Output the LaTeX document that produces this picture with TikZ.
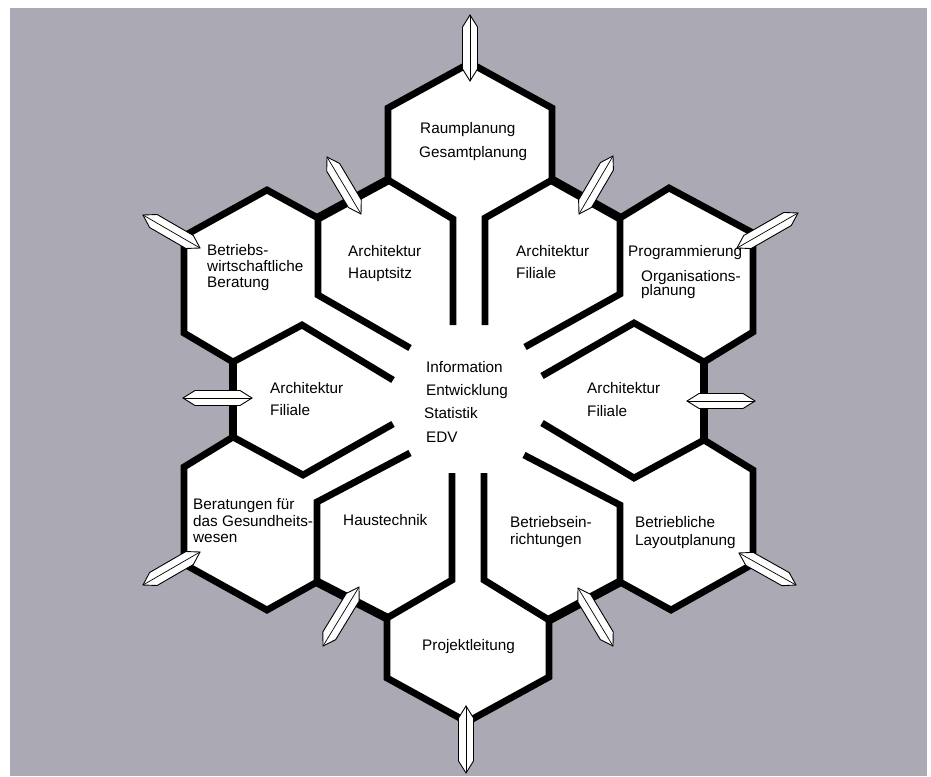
\documentclass[tikz,border=0pt]{standalone}
\usepackage{fontspec}
\setmainfont{Liberation Sans}
\usetikzlibrary{calc}
\definecolor{bggray}{RGB}{171,169,179}
\tikzset{
  wall/.style={line width=6.8pt, line join=miter, miter limit=10, line cap=butt},
  thickwall/.style={line width=8.8pt, line cap=butt},
  crystal/.style={fill=white, draw=black, line width=0.9pt, line join=miter},
  ridge/.style={draw=black, line width=0.7pt},
  lbl/.style={anchor=base west, inner sep=0pt, font=\fontsize{15.3}{18}\selectfont},
}
\newcommand\crys[2]{%
  \filldraw[crystal] (#1)
    -- ($(#1)!12pt!(#2)!7.5pt!90:(#2)$)
    -- ($(#2)!12pt!(#1)!7.5pt!-90:(#1)$)
    -- (#2)
    -- ($(#2)!12pt!(#1)!7.5pt!90:(#1)$)
    -- ($(#1)!12pt!(#2)!7.5pt!-90:(#2)$)
    -- cycle;
  \draw[ridge] (#1) -- (#2);
}
\begin{document}
\begin{tikzpicture}[x=1pt,y=-1pt]
\useasboundingbox (0,0) rectangle (931,776);
\fill[white] (0,0) rectangle (931,776);
\fill[bggray] (10,8) rectangle (927,776);

% outer boundary vertices
\coordinate (T) at (470,63);
\coordinate (tr1) at (552,108);
\coordinate (tr2) at (552,180);
\coordinate (fr) at (620,218);
\coordinate (pt) at (669,188);
\coordinate (pr1) at (753,233);
\coordinate (pr2) at (753,332);
\coordinate (rf1) at (704,362);
\coordinate (rf2) at (704,440);
\coordinate (lr1) at (753,470);
\coordinate (lr2) at (753,564);
\coordinate (lb) at (671,610);
\coordinate (br) at (620,582);
\coordinate (pjr) at (549,620);
\coordinate (pjr2) at (549,677);
\coordinate (B) at (467,722);
\coordinate (pjl2) at (387,678);
\coordinate (pjl) at (387,618);
\coordinate (hl) at (317,582);
\coordinate (gb) at (267,610);
\coordinate (gl2) at (184,564);
\coordinate (gl1) at (184,467);
\coordinate (lf2) at (233,437);
\coordinate (lf1) at (233,362);
\coordinate (bl2) at (184,333);
\coordinate (bl1) at (184,236);
\coordinate (bt) at (267,190);
\coordinate (hsl) at (318,218);
\coordinate (hst) at (388,180);
\coordinate (tl1) at (388,108);

% white area
\fill[white] (T) -- (tr1) -- (tr2) -- (fr) -- (pt) -- (pr1) -- (pr2) -- (rf1) -- (rf2)
  -- (lr1) -- (lr2) -- (lb) -- (br) -- (pjr) -- (pjr2) -- (B) -- (pjl2) -- (pjl)
  -- (hl) -- (gb) -- (gl2) -- (gl1) -- (lf2) -- (lf1) -- (bl2) -- (bl1) -- (bt)
  -- (hsl) -- (hst) -- (tl1) -- cycle;

% outer walls
\draw[wall] (T) -- (tr1) -- (tr2) -- (fr) -- (pt) -- (pr1) -- (pr2) -- (rf1) -- (rf2)
  -- (lr1) -- (lr2) -- (lb) -- (br) -- (pjr) -- (pjr2) -- (B) -- (pjl2) -- (pjl)
  -- (hl) -- (gb) -- (gl2) -- (gl1) -- (lf2) -- (lf1) -- (bl2) -- (bl1) -- (bt)
  -- (hsl) -- (hst) -- (tl1) -- cycle;
% heavier outer edges of the inner ring
\draw[thickwall] (tr2) -- (fr);
\draw[thickwall] (rf1) -- (rf2);
\draw[thickwall] (br) -- (pjr);
\draw[thickwall] (pjl) -- (hl);
\draw[thickwall] (lf2) -- (lf1);
\draw[thickwall] (hsl) -- (hst);

% inner walls
\draw[wall] (hst) -- (453,219) -- (453,325);
\draw[wall] (tr2) -- (485,218) -- (485,325);
\draw[wall] (hsl) -- (318,295) -- (410,348);
\draw[wall] (fr) -- (620,294) -- (525,347);
\draw[wall] (lf1) -- (302,325) -- (393,380);
\draw[wall] (rf1) -- (634,323) -- (542,376);
\draw[wall] (lf2) -- (303,475) -- (393,424);
\draw[wall] (rf2) -- (634,478) -- (542,423);
\draw[wall] (hl) -- (317,502) -- (410,453);
\draw[wall] (br) -- (620,505) -- (524,455);
\draw[wall] (pjl) -- (452,580) -- (452,473);
\draw[wall] (pjr) -- (484,580) -- (484,473);

% crystal pointers
\coordinate (a1o) at (470,15);  \coordinate (a1i) at (470,81);
\coordinate (a2o) at (466,773); \coordinate (a2i) at (466,706);
\coordinate (a3o) at (327,157); \coordinate (a3i) at (361,214);
\coordinate (a4o) at (613,156); \coordinate (a4i) at (579,214);
\coordinate (a5o) at (143,215); \coordinate (a5i) at (200,248);
\coordinate (a6o) at (798,213); \coordinate (a6i) at (737,248);
\coordinate (a7o) at (183,398); \coordinate (a7i) at (252,398);
\coordinate (a8o) at (755,401); \coordinate (a8i) at (687,401);
\coordinate (a9o) at (143,585); \coordinate (a9i) at (200,552);
\coordinate (a10o) at (323,646); \coordinate (a10i) at (359,587);
\coordinate (a11o) at (613,646); \coordinate (a11i) at (578,588);
\coordinate (a12o) at (796,585); \coordinate (a12i) at (739,553);
\crys{a1o}{a1i}
\crys{a2o}{a2i}
\crys{a3o}{a3i}
\crys{a4o}{a4i}
\crys{a5o}{a5i}
\crys{a6o}{a6i}
\crys{a7o}{a7i}
\crys{a8o}{a8i}
\crys{a9o}{a9i}
\crys{a10o}{a10i}
\crys{a11o}{a11i}
\crys{a12o}{a12i}

% labels
\node[lbl] (raumA) at (420,133) {Raumplanung};
\node[lbl] (raumB) at (419,157) {Gesamtplanung};
\node[lbl] (hsA) at (348,256) {Architektur};
\node[lbl] (hsB) at (348,278) {Hauptsitz};
\node[lbl] (bwA) at (207,255) {Betriebs-};
\node[lbl] (bwB) at (207,271) {wirtschaftliche};
\node[lbl] (bwC) at (207,287) {Beratung};
\node[lbl] (tfA) at (516,256) {Architektur};
\node[lbl] (tfB) at (516,278) {Filiale};
\node[lbl] (pgA) at (628,256) {Programmierung};
\node[lbl] (pgB) at (641,281) {Organisations-};
\node[lbl] (pgC) at (641,295) {planung};
\node[lbl] (lfA) at (270,393) {Architektur};
\node[lbl] (lfB) at (270,415) {Filiale};
\node[lbl] (ceA) at (426,372) {Information};
\node[lbl] (ceB) at (426,395) {Entwicklung};
\node[lbl] (ceC) at (424,418) {Statistik};
\node[lbl] (ceD) at (426,442) {EDV};
\node[lbl] (rfA) at (587,393) {Architektur};
\node[lbl] (rfB) at (587,416) {Filiale};
\node[lbl] (gsA) at (193,509) {Beratungen für};
\node[lbl] (gsB) at (193,526) {das Gesundheits-};
\node[lbl] (gsC) at (193,542) {wesen};
\node[lbl] (ht) at (343,525) {Haustechnik};
\node[lbl] (beA) at (510,527) {Betriebsein-};
\node[lbl] (beB) at (510,544) {richtungen};
\node[lbl] (blA) at (635,527) {Betriebliche};
\node[lbl] (blB) at (635,545) {Layoutplanung};
\node[lbl] (pj) at (422,650) {Projektleitung};
\end{tikzpicture}
\end{document}
